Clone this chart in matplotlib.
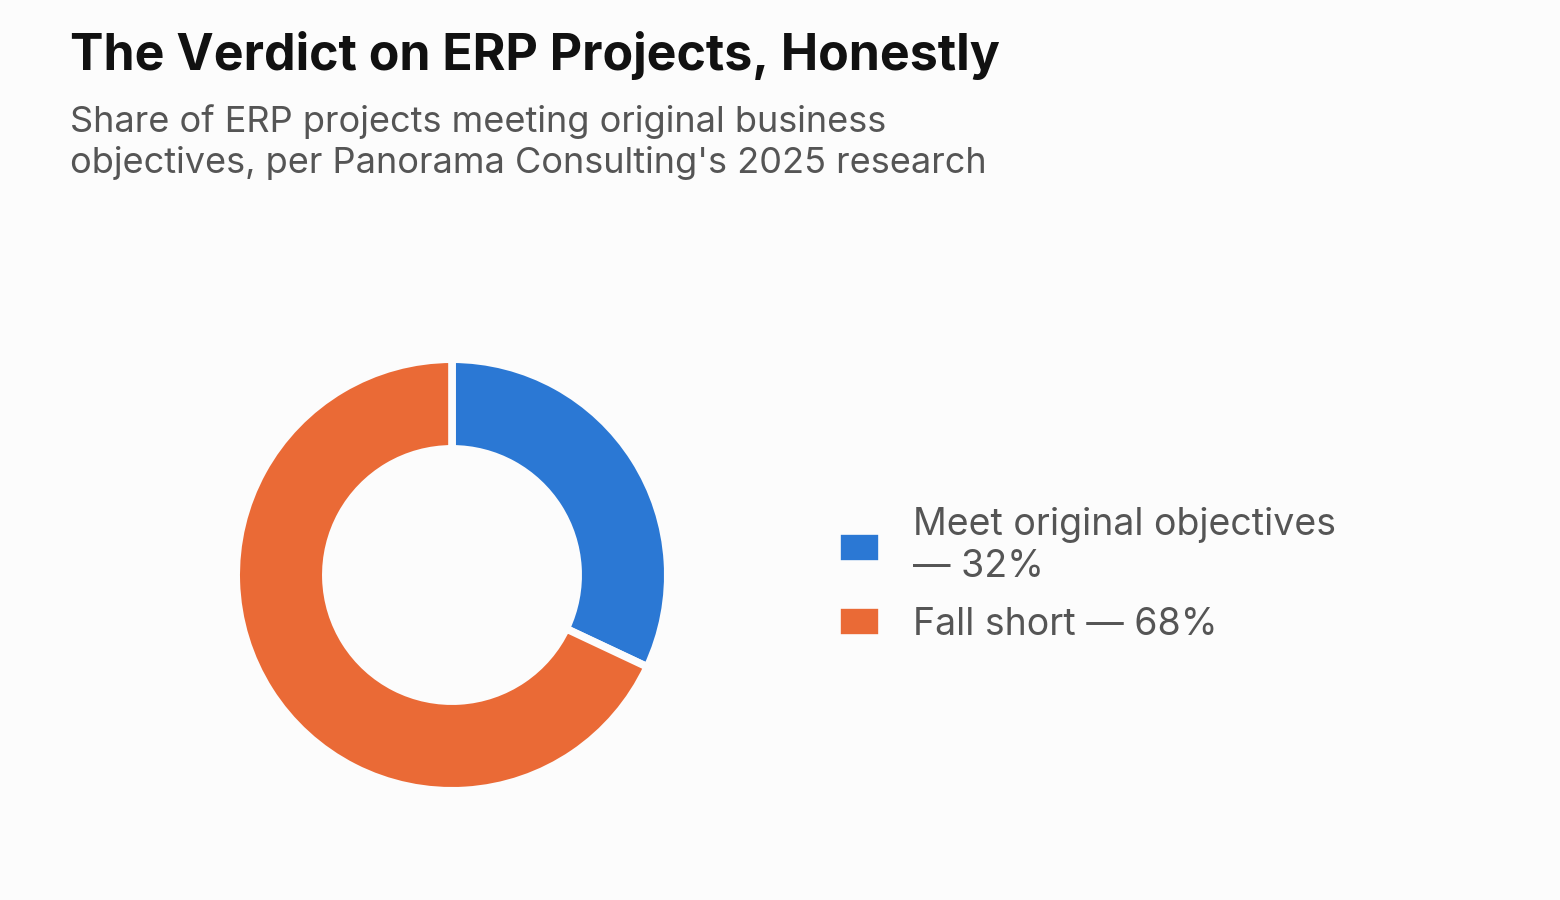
import matplotlib
matplotlib.use("Agg")
import matplotlib.pyplot as plt

categories = ["Meet original objectives\n— 32%", "Fall short — 68%"]
values = [32, 68]
colors = ["#2B78D4", "#EA6A36"]

title = "The Verdict on ERP Projects, Honestly"
subtitle = "Share of ERP projects meeting original business\nobjectives, per Panorama Consulting's 2025 research"

bg = "#FCFCFC"
plt.rcParams['font.family'] = ['Inter', 'DejaVu Sans']

W, H = 1560, 900
fig = plt.figure(figsize=(W/100, H/100), dpi=100, facecolor=bg)

cx, cy, r = 452, 575, 212
ax = fig.add_axes([(cx - r)/W, 1 - (cy + r)/H, 2*r/W, 2*r/H])
ax.set_facecolor(bg)
wedges, _ = ax.pie(values, colors=colors, startangle=90, counterclock=False,
                   radius=1.018,
                   wedgeprops=dict(width=0.423, edgecolor=bg, linewidth=5.5))
ax.set_xlim(-1, 1)
ax.set_ylim(-1, 1)
ax.set_aspect('equal')
ax.axis('off')

fig.text(70/W, 1 - 55/H, title, fontsize=36, fontweight='bold', color="#111111",
         va='center', ha='left')
fig.text(70/W, 1 - 142/H, subtitle, fontsize=26, color="#555555",
         va='center', ha='left', linespacing=1.27)

leg = fig.legend(wedges, categories, loc='center left',
                 bbox_to_anchor=(837/W, 1 - 575/H), frameon=False,
                 fontsize=27, labelcolor="#555555",
                 borderpad=0, borderaxespad=0,
                 handlelength=1.19, handleheight=1.0, handletextpad=0.84,
                 labelspacing=0.53)

fig.savefig("out.png", dpi=100, facecolor=bg)
